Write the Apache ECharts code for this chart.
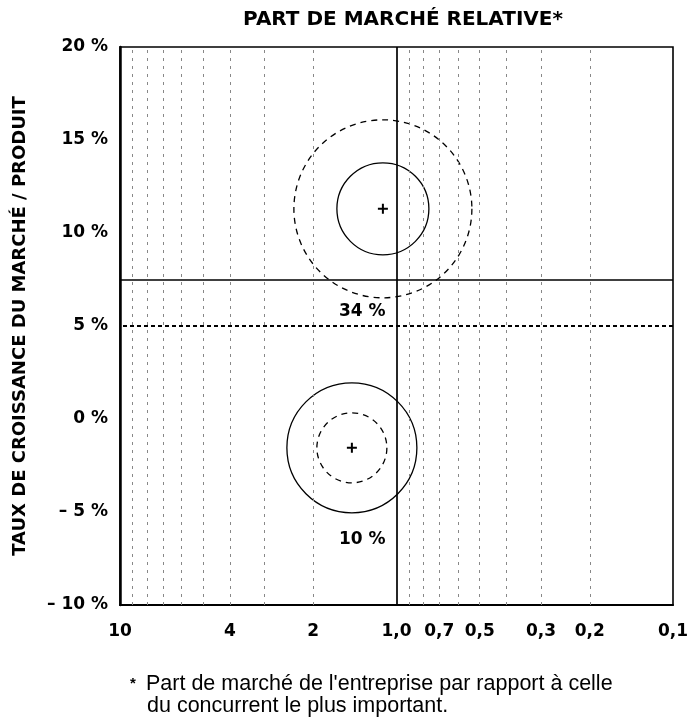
<!DOCTYPE html>
<html><head><meta charset="utf-8">
<script src="https://cdn.jsdelivr.net/npm/echarts@6/dist/echarts.min.js"></script>
<style>html,body{margin:0;padding:0;background:#fff}#c{width:687px;height:720px}</style>
</head><body><div id="c"></div>
<script>
// ---- data ----
const xTickLabels = [10, 4, 2, 1, 0.7, 0.5, 0.3, 0.2, 0.1];
const xGridValues = [9, 8, 7, 6, 5, 4, 3, 2, 0.9, 0.8, 0.7, 0.6, 0.5, 0.4, 0.3, 0.2];
const productNames = ['Produit A', 'Produit B'];
const relShare = [1.12, 1.45];
const growth = [11.3, -1.55];
const volumeNow = [46, 65];
const volumeFuture = [89, 35];
const shareLabels = ['34 %', '10 %'];
const shareLabelX = [1.33, 1.33];
const shareLabelY = [5.8, -6.5];
const growthLimit = 7.5;
const growthRef = 5;
const shareLimit = 1;

const FONT = '"DejaVu Sans", sans-serif';
const FOOT = '"Liberation Sans", Arial, sans-serif';
const chart = echarts.init(document.getElementById('c'), null, {renderer: 'canvas'});
const fmtX = v => (v === 1 ? '1,0' : String(v).replace('.', ','));
const fmtY = v => (v < 0 ? '\u2013 ' + (-v) + ' %' : v + ' %');
const plus = 'path://M4,0h2v4h4v2h-4v4h-2v-4h-4v-2h4z';

chart.setOption({
  animation: false,
  backgroundColor: '#fff',
  grid: {left: 120, right: 14, top: 47, bottom: 115, show: true, borderColor: '#000', borderWidth: 1.6},
  xAxis: {
    type: 'log', logBase: 10, min: 0.1, max: 10, inverse: true,
    axisLine: {show: true, onZero: false, lineStyle: {color: '#000', width: 2}},
    axisTick: {show: false},
    axisLabel: {show: false},
    splitLine: {show: false}
  },
  yAxis: {
    type: 'value', min: -10, max: 20, interval: 5,
    name: 'TAUX DE CROISSANCE DU MARCHÉ / PRODUIT',
    nameLocation: 'middle', nameRotate: 90, nameGap: 91,
    nameTextStyle: {fontFamily: FONT, fontWeight: 'bold', fontSize: 18, color: '#000'},
    axisLine: {show: true, onZero: false, lineStyle: {color: '#000', width: 2.5}},
    axisTick: {show: false},
    axisLabel: {formatter: fmtY, margin: 12, fontFamily: FONT, fontWeight: 'bold', fontSize: 17, color: '#000'},
    splitLine: {show: false}
  },
  graphic: [
    {type: 'text', x: 403, y: 20, style: {text: 'PART DE MARCHÉ RELATIVE*', font: 'bold 20px ' + FONT, align: 'center', verticalAlign: 'middle', fill: '#000'}},
    {type: 'text', x: 130, y: 684, style: {text: '*', font: 'bold 15px ' + FOOT, align: 'left', verticalAlign: 'middle', fill: '#000'}},
    {type: 'text', x: 146, y: 684, style: {text: "Part de marché de l'entreprise par rapport à celle", font: '21.5px ' + FOOT, align: 'left', verticalAlign: 'middle', fill: '#000'}},
    {type: 'text', x: 147, y: 706, style: {text: 'du concurrent le plus important.', font: '21.5px ' + FOOT, align: 'left', verticalAlign: 'middle', fill: '#000'}}
  ],
  series: [
    {
      name: 'grille', type: 'scatter', data: [], silent: true,
      markLine: {
        silent: true, symbol: 'none', label: {show: false},
        lineStyle: {color: '#888', width: 1, type: [3, 5]},
        data: xGridValues.map(v => ({xAxis: v}))
      }
    },
    {
      name: 'limites', type: 'scatter', data: [], silent: true,
      markLine: {
        silent: true, symbol: 'none', label: {show: false},
        data: [
          {yAxis: growthLimit, lineStyle: {color: '#000', width: 1.7, type: 'solid'}},
          {yAxis: growthRef, lineStyle: {color: '#000', width: 1.8, type: [4, 3]}},
          {xAxis: shareLimit, lineStyle: {color: '#000', width: 1.7, type: 'solid'}}
        ]
      }
    },
    {
      name: 'futur', type: 'scatter', symbol: 'circle', silent: true,
      data: productNames.map((n, i) => ({name: n, value: [relShare[i], growth[i], volumeFuture[i]]})),
      symbolSize: v => v[2] * 2,
      itemStyle: {color: 'rgba(0,0,0,0)', opacity: 1, borderColor: '#000', borderWidth: 1.3, borderType: [6, 5]}
    },
    {
      name: 'actuel', type: 'scatter', symbol: 'circle', silent: true,
      data: productNames.map((n, i) => ({name: n, value: [relShare[i], growth[i], volumeNow[i]]})),
      symbolSize: v => v[2] * 2,
      itemStyle: {color: 'rgba(0,0,0,0)', opacity: 1, borderColor: '#000', borderWidth: 1.3}
    },
    {
      name: 'centres', type: 'scatter', symbol: plus, symbolSize: 10, silent: true,
      data: productNames.map((n, i) => [relShare[i], growth[i]]),
      itemStyle: {color: '#000', opacity: 1}
    },
    {
      name: 'parts', type: 'scatter', symbolSize: 0, silent: true,
      data: shareLabels.map((t, i) => ({value: [shareLabelX[i], shareLabelY[i]], label: {formatter: t}})),
      itemStyle: {opacity: 1},
      label: {show: true, position: 'inside', fontFamily: FONT, fontWeight: 'bold', fontSize: 17, color: '#000'}
    },
    {
      name: 'etiquettesX', type: 'scatter', symbolSize: 0, silent: true, clip: false,
      data: xTickLabels.map(v => [v, -10]),
      itemStyle: {opacity: 1},
      label: {show: true, position: 'bottom', distance: 18, formatter: p => fmtX(p.value[0]),
        fontFamily: FONT, fontWeight: 'bold', fontSize: 17, color: '#000'}
    }
  ]
});
</script></body></html>
